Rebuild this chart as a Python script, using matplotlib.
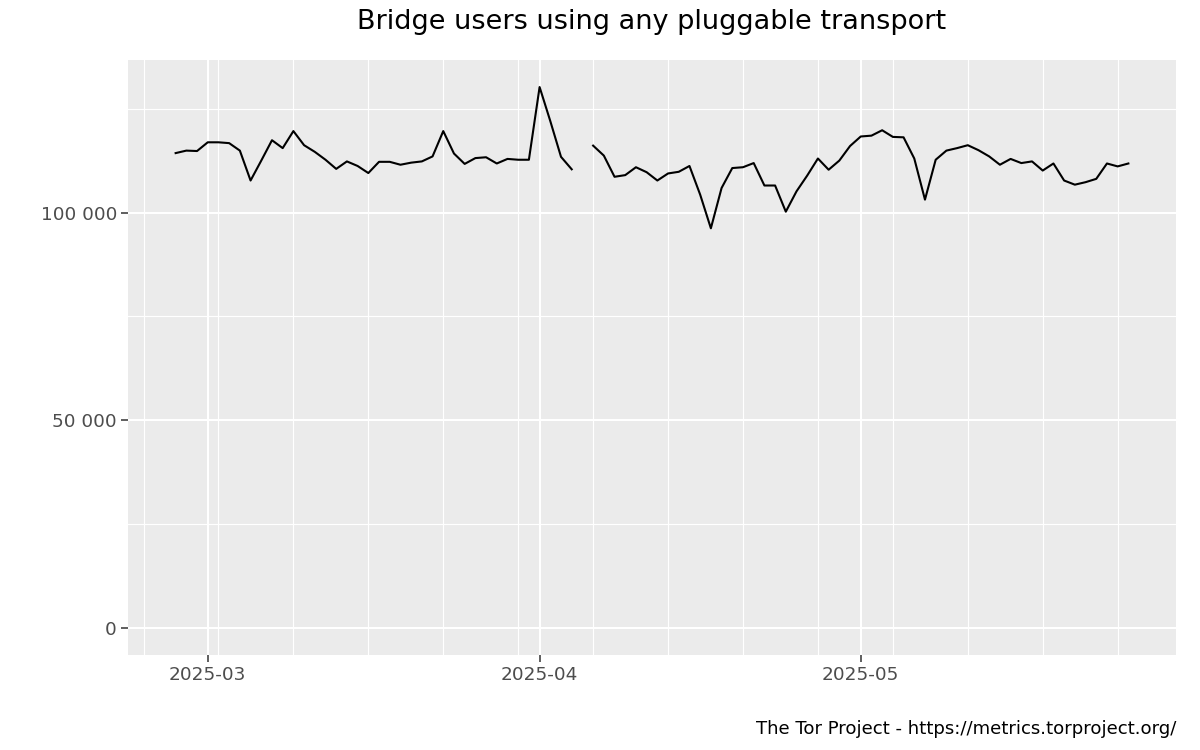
import numpy as np
import pandas as pd
import matplotlib
matplotlib.use("Agg")
import matplotlib.pyplot as plt
import matplotlib.dates as mdates
from matplotlib.ticker import FuncFormatter, FixedLocator

start_date = "2025-02-26"
end_date = "2025-05-26"
# Bridge users (thousands); NaN marks the missing day (2025-04-05)
users_k = [
    114.3, 114.9, 114.8,                                   # Feb 26-28
    116.9, 116.9, 116.7, 114.9, 107.7, 112.5, 117.4, 115.5, 119.6, 116.2,   # Mar 1-10
    114.6, 112.7, 110.5, 112.3, 111.2, 109.5, 112.2, 112.2, 111.5, 112.0,   # Mar 11-20
    112.3, 113.5, 119.6, 114.2, 111.7, 113.1, 113.3, 111.8, 112.9, 112.7, 112.7,  # Mar 21-31
    130.2, 122.0, 113.4, 110.4, np.nan, 116.1, 113.7, 108.6, 109.0, 110.9,  # Apr 1-10
    109.7, 107.7, 109.4, 109.8, 111.2, 104.3, 96.2, 105.9, 110.7, 110.9,    # Apr 11-20
    111.9, 106.5, 106.5, 100.2, 105.1, 108.9, 113.0, 110.3, 112.5, 116.0,   # Apr 21-30
    118.3, 118.5, 119.8, 118.2, 118.1, 113.0, 103.1, 112.7, 114.9, 115.5,   # May 1-10
    116.2, 115.0, 113.5, 111.5, 112.9, 111.9, 112.3, 110.1, 111.8, 107.7,   # May 11-20
    106.7, 107.3, 108.1, 111.8, 111.1, 111.8,                               # May 21-26
]
y_ticks = [0, 50000, 100000]
x_tick_dates = ["2025-03-01", "2025-04-01", "2025-05-01"]
x_tick_labels = ["2025-03", "2025-04", "2025-05"]
title = "Bridge users using any pluggable transport"
caption = "The Tor Project - https://metrics.torproject.org/"

dates = pd.date_range(start_date, end_date, freq="D")
users = np.array(users_k) * 1000.0

fig = plt.figure(figsize=(12, 7.5), dpi=100)
ax = fig.add_axes([128/1200, 1-655/750, (1176-128)/1200, (655-60)/750])
ax.set_facecolor("#EBEBEB")
for s in ax.spines.values():
    s.set_visible(False)

ax.plot(dates, users, color="black", linewidth=1.5, zorder=3)

# limits with ggplot-like 5% expansion
x0 = mdates.date2num(dates[0]); x1 = mdates.date2num(dates[-1])
dx = (x1 - x0) * 0.05
ax.set_xlim(x0 - dx, x1 + dx)
ymax = np.nanmax(users); ymin = 0
dy = (ymax - ymin) * 0.05
ax.set_ylim(ymin - dy, ymax + dy)

# y axis
ax.yaxis.set_major_locator(FixedLocator(y_ticks))
minor_y = [(y_ticks[i] + y_ticks[i+1]) / 2 for i in range(len(y_ticks)-1)] + [y_ticks[-1] + 25000]
ax.yaxis.set_minor_locator(FixedLocator(minor_y))
ax.yaxis.set_major_formatter(FuncFormatter(lambda v, p: f"{int(v):,}".replace(",", " ")))

# x axis
ax.xaxis.set_major_locator(FixedLocator([mdates.date2num(pd.Timestamp(d)) for d in x_tick_dates]))
ax.set_xticklabels(x_tick_labels)
weekly = pd.date_range("2025-02-23", "2025-05-25", freq="7D")
ax.xaxis.set_minor_locator(FixedLocator([mdates.date2num(d) for d in weekly]))

ax.grid(which="major", color="white", linewidth=1.5, zorder=1)
ax.grid(which="minor", color="white", linewidth=0.8, zorder=1)
ax.set_axisbelow(True)

ax.tick_params(which="major", length=5, width=1.1, color="#333333",
               labelcolor="#4D4D4D", labelsize=13.3, pad=3)
ax.tick_params(which="minor", length=0)

fig.text((128+1176)/2/1200, 1-22/750, title, ha="center", va="center",
         fontsize=19.5, color="black")
fig.text(1176/1200, 1-729/750, caption, ha="right", va="center",
         fontsize=13.1, color="black")

fig.savefig("out.png", dpi=100)
